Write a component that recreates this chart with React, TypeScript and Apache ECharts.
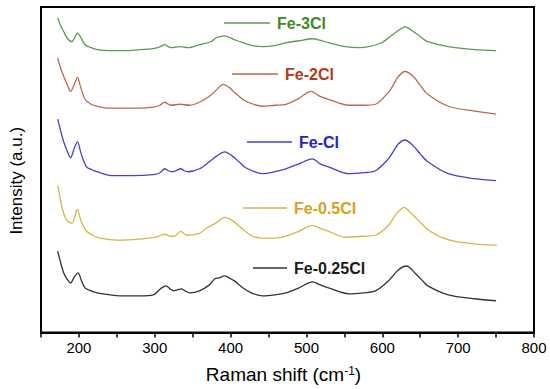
import React, { useEffect, useRef } from "react";
import * as echarts from "echarts";

const seriesNames = ["Fe-3Cl", "Fe-2Cl", "Fe-Cl", "Fe-0.5Cl", "Fe-0.25Cl"];

const x3Cl = [172,176,180,185,191,195,198,202,208,216,224,239,260,280,298,307,313,318,322,333,344,359,374,381,392,405,416,429,442,458,473,490,508,520,529,551,570,582,599,610,617,630,643,652,660,687,722,750];
const y3Cl = [317,309,303,296,293,298,302,298,290,287,285,284,284,285,286,288,290,288,287,288,287,290,293,297,299,295,292,289,288,289,292,294,296,294,292,288,287,288,292,298,302,308,302,297,293,288,285,284];

const x2Cl = [172,176,180,185,189,194,198,202,208,216,224,240,254,280,298,307,313,318,322,333,346,359,372,382,390,398,405,418,430,442,458,473,490,506,518,529,556,575,591,608,615,621,630,641,650,660,687,722,750];
const y2Cl = [277,266,258,249,243,250,257,248,235,230,228,226,226,226,227,229,232,230,229,230,229,232,238,245,250,247,242,234,230,228,229,230,236,243,238,235,229,229,230,242,250,258,263,258,249,240,228,223,220];

const x1Cl = [172,176,180,185,189,194,198,203,210,217,224,245,270,298,307,313,318,323,328,334,339,344,359,372,382,392,402,411,420,442,458,473,490,508,518,529,556,575,591,608,615,621,630,641,650,660,687,722,750];
const y1Cl = [215,203,192,182,176,186,192,180,167,164,162,158,158,159,161,165,163,162,163,165,163,162,165,172,178,182,178,172,166,160,162,165,170,175,170,167,160,161,163,175,183,190,194,188,180,172,160,155,153];

const x05Cl = [172,175,178,184,191,195,198,203,210,218,228,250,280,302,308,314,320,326,334,338,342,359,368,380,392,404,416,429,442,458,473,490,508,518,529,551,575,591,608,619,629,637,645,663,689,724,751];
const y05Cl = [148,137,125,113,110,118,124,112,102,98,95,93,94,96,98,99,97,97,102,100,98,100,105,110,116,112,104,97,95,95,97,102,108,105,102,96,97,98,108,120,126,121,115,102,93,89,88];

const x025Cl = [172,176,180,185,189,194,199,203,208,216,224,254,280,298,309,315,320,325,330,335,340,346,359,372,379,385,392,398,405,416,427,442,458,473,490,508,518,529,556,575,591,608,621,632,643,652,660,687,722,750];
const y025Cl = [82,70,60,53,50,56,60,53,45,42,40,37,37,38,45,47,44,42,43,44,42,40,42,48,54,55,57,55,52,45,40,37,38,40,45,51,48,45,39,40,42,52,63,67,60,53,47,38,34,32];

const xTickValues = [200, 300, 400, 500, 600, 700, 800];

const lineColors = ["#5e9a48", "#b86a4e", "#4343c8", "#d9b547", "#333333"];
const textColors = ["#3f8a22", "#b03a22", "#2424c8", "#d4a21c", "#1a1a1a"];
const legendPos = [
  { left: 224, top: 15, w: 46 },
  { left: 232, top: 66, w: 46 },
  { left: 247, top: 134, w: 45 },
  { left: 243, top: 200, w: 44 },
  { left: 253, top: 260, w: 34 },
];

const FONT = "'Liberation Sans', Arial, sans-serif";

export default function App() {
  const ref = useRef<HTMLDivElement>(null);
  useEffect(() => {
    if (!ref.current) return;
    const chart = echarts.init(ref.current, null, { renderer: "svg" });
    const xs = [x3Cl, x2Cl, x1Cl, x05Cl, x025Cl];
    const ys = [y3Cl, y2Cl, y1Cl, y05Cl, y025Cl];
    const series = seriesNames.map((name, i) => ({
      name,
      type: "line",
      data: xs[i].map((x, j) => [x, ys[i][j]]),
      smooth: 0.3,
      symbol: "none",
      lineStyle: { color: lineColors[i], width: 1.3 },
      itemStyle: { color: lineColors[i] },
    }));
    const legends = seriesNames.map((name, i) => ({
      data: [name],
      left: legendPos[i].left,
      top: legendPos[i].top,
      padding: 0,
      icon: "rect",
      itemWidth: legendPos[i].w,
      itemHeight: 1.4,
      selectedMode: false,
      itemStyle: { color: lineColors[i], borderWidth: 0 },
      textStyle: {
        color: textColors[i],
        fontSize: 16,
        fontWeight: "bold",
        fontFamily: FONT,
        padding: [0, 0, 0, 2],
      },
    }));
    chart.setOption({
      animation: false,
      backgroundColor: "#ffffff",
      grid: {
        left: 38,
        right: 16,
        top: 7,
        bottom: 54,
        show: true,
        borderColor: "#000",
        borderWidth: 2,
      },
      legend: legends,
      xAxis: {
        type: "value",
        min: 150,
        max: 800,
        interval: 50,
        name: "Raman shift (cm{sup|-1})",
        nameLocation: "middle",
        nameGap: 32,
        nameTextStyle: {
          fontSize: 19,
          color: "#000",
          fontFamily: FONT,
          padding: [0, 8, 0, 0],
          rich: {
            sup: { fontSize: 12, verticalAlign: "top", color: "#000", fontFamily: FONT, padding: [0, 0, 8, 0] },
          },
        },
        axisLine: { show: true, onZero: false, lineStyle: { color: "#000", width: 2 } },
        axisTick: { show: true, inside: false, length: 5, lineStyle: { color: "#000", width: 1.5 } },
        splitLine: { show: false },
        axisLabel: {
          fontSize: 15,
          color: "#000",
          fontFamily: FONT,
          margin: 7,
          formatter: (v: number) => (xTickValues.includes(v) ? String(v) : ""),
        },
      },
      yAxis: {
        type: "value",
        min: 0,
        max: 328,
        name: "Intensity (a.u.)",
        nameLocation: "middle",
        nameRotate: 90,
        nameGap: 16,
        nameTextStyle: { fontSize: 17, color: "#000", fontFamily: FONT, padding: [0, 22, 0, 0] },
        axisLine: { show: true, lineStyle: { color: "#000", width: 2 } },
        axisTick: { show: false },
        axisLabel: { show: false },
        splitLine: { show: false },
      },
      series,
    });
    return () => chart.dispose();
  }, []);
  return <div ref={ref} style={{ width: 550, height: 389, position: "absolute", left: 0, top: 0 }} />;
}
